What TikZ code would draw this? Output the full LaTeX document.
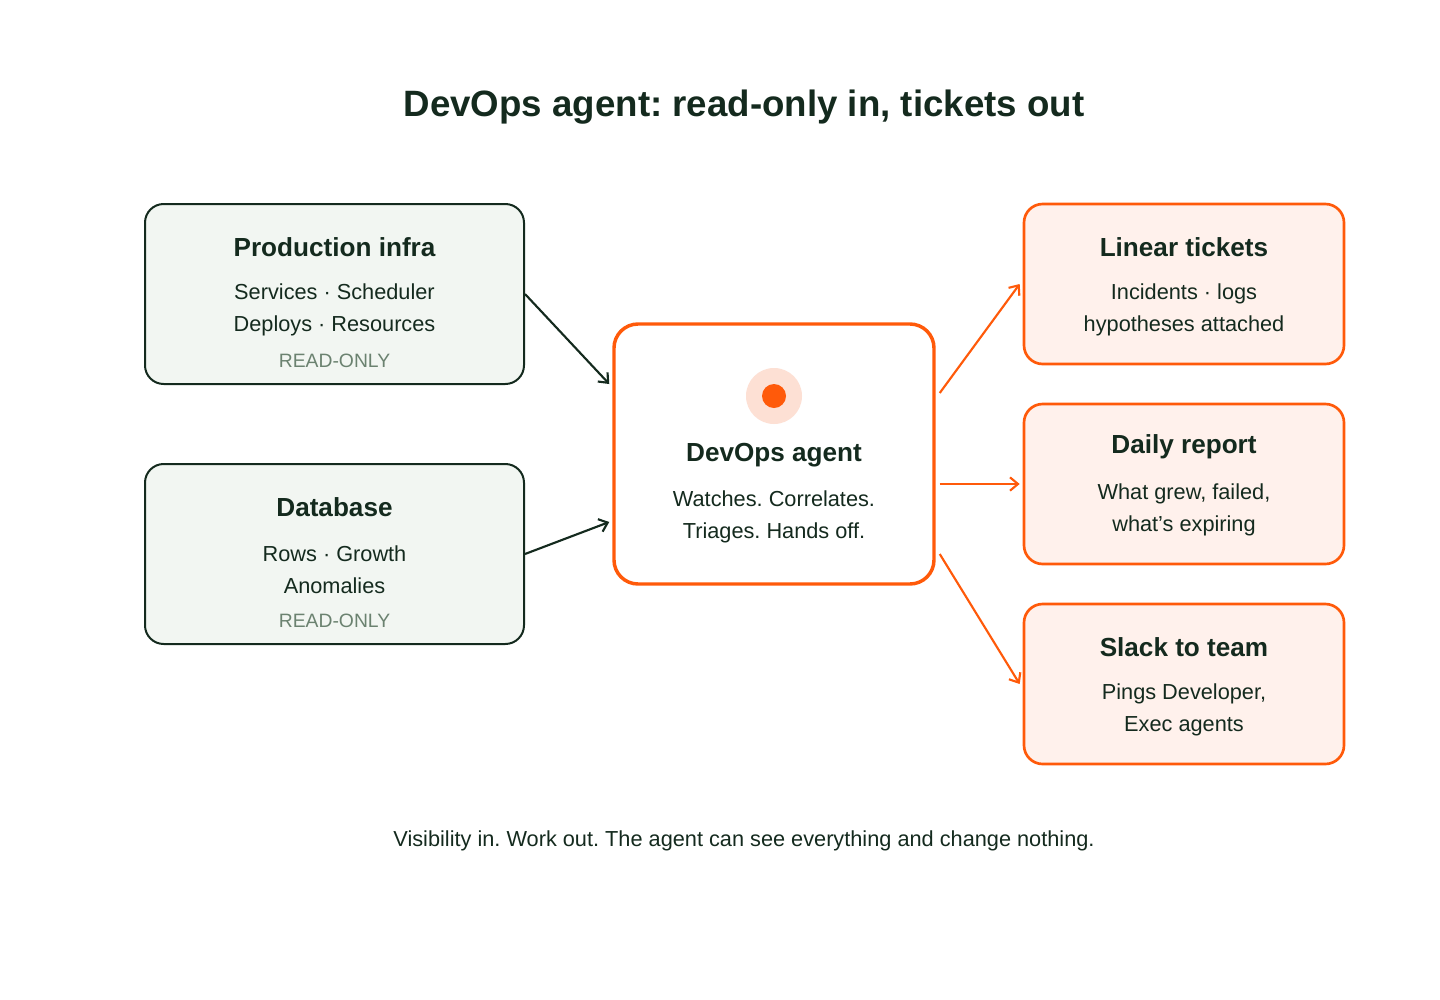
\documentclass[tikz,border=0pt]{standalone}
\usepackage{fontspec}
\setmainfont{Liberation Sans}
\usetikzlibrary{arrows.meta}
\frenchspacing
\definecolor{ink}{HTML}{142A1E}
\definecolor{greenfill}{HTML}{F2F6F2}
\definecolor{muted}{HTML}{6B8270}
\definecolor{brand}{HTML}{FF5A0A}
\definecolor{brandfill}{HTML}{FFF1EC}
\definecolor{halo}{HTML}{FDE0D4}
\tikzset{
  inbox/.style    = {draw=ink, line width=1.5pt, fill=greenfill, rounded corners=14pt,
                     minimum width=284.25pt, minimum height=135pt},
  outbox/.style   = {draw=brand, line width=2pt, fill=brandfill, rounded corners=14pt,
                     minimum width=240pt, minimum height=120pt},
  agentbox/.style = {draw=brand, line width=2.6pt, fill=white, rounded corners=18pt,
                     minimum width=240pt, minimum height=195pt},
  head/.style     = {font=\bfseries\fontsize{19.6}{23}\selectfont, text=ink},
  body/.style     = {font=\fontsize{16.3}{24}\selectfont, text=ink, align=center},
  tag/.style      = {font=\fontsize{14.5}{17}\selectfont, text=muted},
  inflow/.style   = {draw=ink, line width=1.6pt, -{Straight Barb[length=6pt,width=10pt]}},
  outflow/.style  = {draw=brand, line width=1.6pt, -{Straight Barb[length=6pt,width=10pt]}}
}
\begin{document}
\begin{tikzpicture}[x=0.75pt, y=-0.75pt]
  \useasboundingbox (0,0) rectangle (1440,1000);
  \node [font=\bfseries\fontsize{27.5}{32}\selectfont, text=ink] (title) at (744,107) {DevOps agent: read-only in, tickets out};

  % read-only sources
  \node [inbox] (prod) at (334.5,294) {};
  \node [head] at (334.5,247) {Production infra};
  \node [body] at (334.5,310) {Services · Scheduler\\Deploys · Resources};
  \node [tag] at (334.5,361) {READ-ONLY};

  \node [inbox] (db) at (334.5,554) {};
  \node [head] at (334.5,507) {Database};
  \node [body] at (334.5,570) {Rows · Growth\\Anomalies};
  \node [tag] at (334.5,621) {READ-ONLY};

  % agent
  \node [agentbox] (agent) at (774,454) {};
  \fill [halo] (774,396) circle (28);
  \fill [brand] (774,396) circle (12);
  \node [head] at (774,455) {DevOps agent};
  \node [body] at (774,517) {Watches. Correlates.\\Triages. Hands off.};

  % outputs
  \node [outbox] (linear) at (1184,284) {};
  \node [head] at (1184,247) {Linear tickets};
  \node [body] at (1184,310) {Incidents · logs\\hypotheses attached};

  \node [outbox] (report) at (1184,484) {};
  \node [head] at (1184,447) {Daily report};
  \node [body] at (1184,510) {What grew, failed,\\what's expiring};

  \node [outbox] (slack) at (1184,684) {};
  \node [head] at (1184,647) {Slack to team};
  \node [body] at (1184,710) {Pings Developer,\\Exec agents};

  \draw [inflow] (prod.east) -- ([shift={(-3,-70)}]agent.west);
  \draw [inflow] (db.east) -- ([shift={(-3,68)}]agent.west);
  \draw [outflow] ([shift={(4,-61)}]agent.east) -- ([shift={(-3,0)}]linear.west);
  \draw [outflow] ([shift={(4,30)}]agent.east) -- ([shift={(-3,0)}]report.west);
  \draw [outflow] ([shift={(4,100)}]agent.east) -- ([shift={(-3,0)}]slack.west);

  \node [font=\fontsize{16.3}{19}\selectfont, text=ink] (caption) at (744,841) {Visibility in. Work out. The agent can see everything and change nothing.};
\end{tikzpicture}
\end{document}
